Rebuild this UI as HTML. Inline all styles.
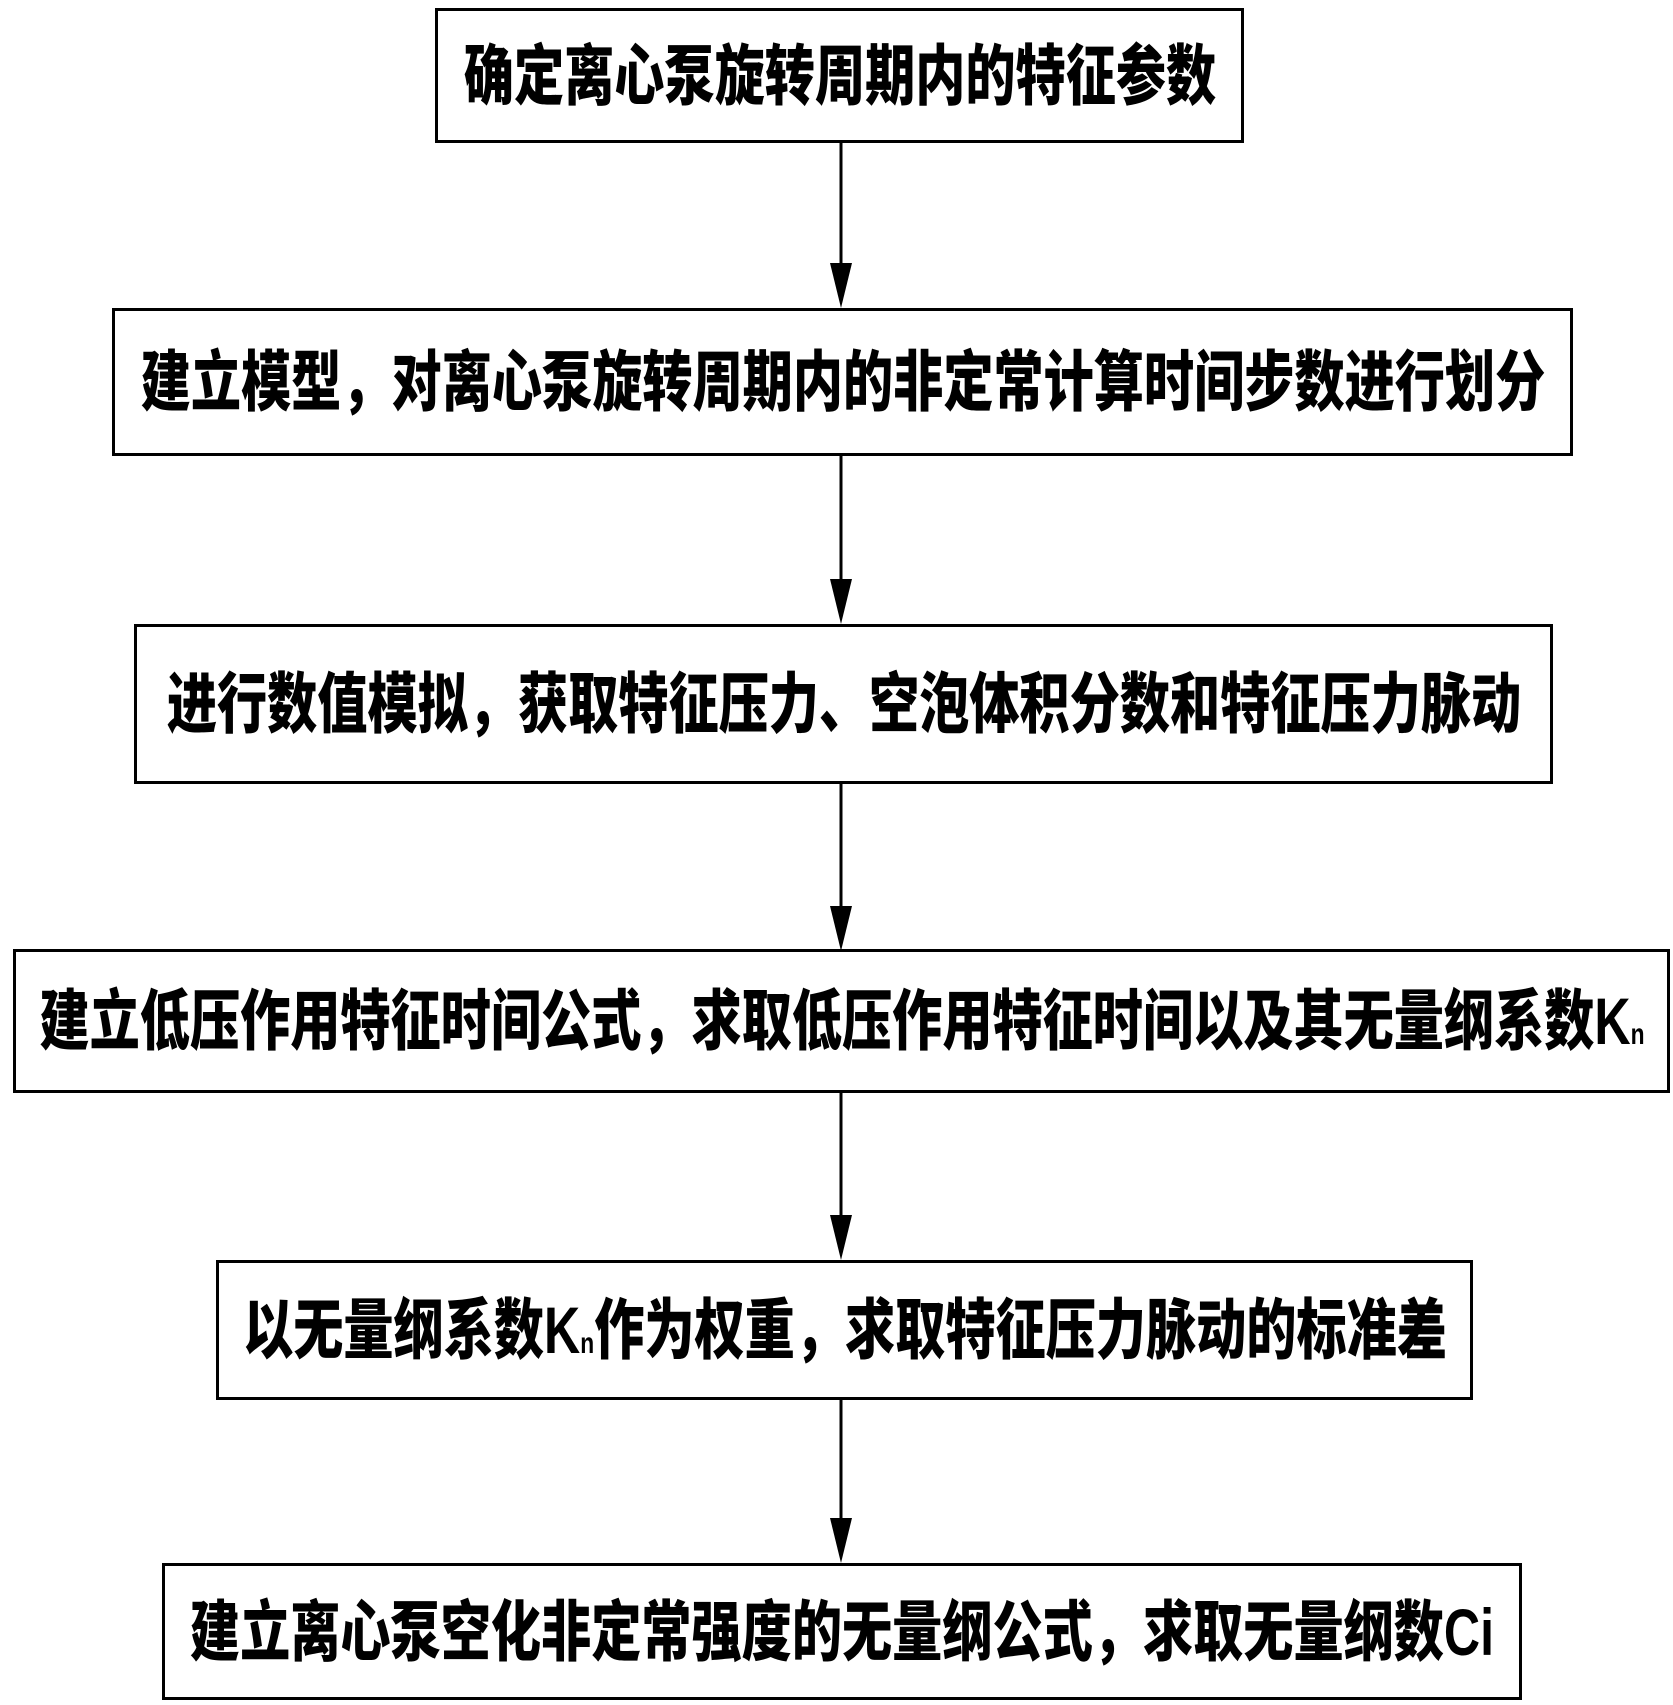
<!DOCTYPE html>
<html><head><meta charset="utf-8"><style>
body{margin:0;background:#fff;width:1673px;height:1705px;position:relative;overflow:hidden}
.b{position:absolute;border:3px solid #000;box-sizing:border-box;display:flex;align-items:center;justify-content:center;overflow:visible}
.t{font-family:"Liberation Sans","Noto Sans CJK SC",sans-serif;font-weight:900;font-size:66px;line-height:1;white-space:nowrap;transform:scaleX(0.76);transform-origin:center;color:#000}
sub{font-size:30px;vertical-align:baseline}
</style></head><body>
<svg width="1673" height="1705" style="position:absolute;left:0;top:0">
<g stroke="#000" stroke-width="3">
<line x1="841" y1="143" x2="841" y2="290"/>
<line x1="841" y1="456" x2="841" y2="606"/>
<line x1="841" y1="784" x2="841" y2="933"/>
<line x1="841" y1="1092" x2="841" y2="1242"/>
<line x1="841" y1="1400" x2="841" y2="1545"/>
</g>
<g fill="#000">
<polygon points="830,263 852,263 841,308"/>
<polygon points="830,579 852,579 841,624"/>
<polygon points="830,906 852,906 841,951"/>
<polygon points="830,1215 852,1215 841,1260"/>
<polygon points="830,1518 852,1518 841,1563"/>
</g>
</svg>
<div class="b" style="left:435px;top:8px;width:809px;height:135px"><span class="t">确定离心泵旋转周期内的特征参数</span></div>
<div class="b" style="left:112px;top:308px;width:1461px;height:148px"><span class="t">建立模型，对离心泵旋转周期内的非定常计算时间步数进行划分</span></div>
<div class="b" style="left:134px;top:624px;width:1419px;height:160px"><span class="t">进行数值模拟，获取特征压力、空泡体积分数和特征压力脉动</span></div>
<div class="b" style="left:13px;top:949px;width:1657px;height:144px"><span class="t">建立低压作用特征时间公式，求取低压作用特征时间以及其无量纲系数K<sub>n</sub></span></div>
<div class="b" style="left:216px;top:1260px;width:1257px;height:140px"><span class="t">以无量纲系数K<sub>n</sub>作为权重，求取特征压力脉动的标准差</span></div>
<div class="b" style="left:162px;top:1563px;width:1360px;height:137px"><span class="t">建立离心泵空化非定常强度的无量纲公式，求取无量纲数Ci</span></div>
</body></html>
